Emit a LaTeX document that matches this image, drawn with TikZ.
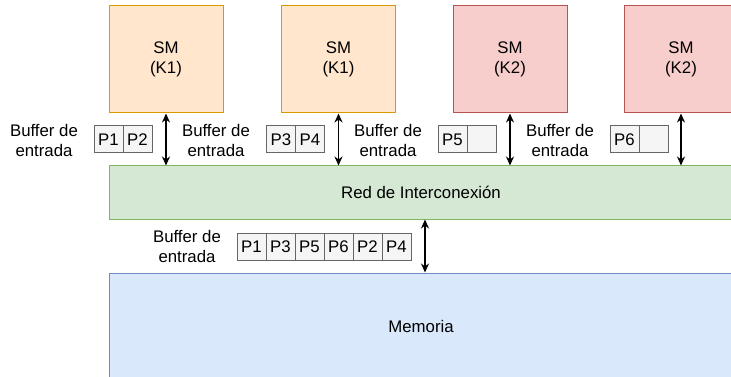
\documentclass[tikz,border=0pt]{standalone}
\usepackage{fontspec}
\setmainfont{Liberation Sans}
\usetikzlibrary{arrows.meta,positioning}
\definecolor{kafill}{HTML}{FFE6CC}
\definecolor{kaline}{HTML}{D79B00}
\definecolor{kbfill}{HTML}{F8CECC}
\definecolor{kbline}{HTML}{B85450}
\definecolor{netfill}{HTML}{D5E8D4}
\definecolor{netline}{HTML}{82B366}
\definecolor{memfill}{HTML}{DAE8FC}
\definecolor{memline}{HTML}{6C8EBF}
\definecolor{cellfill}{HTML}{F5F5F5}
\definecolor{cellline}{HTML}{666666}

\begin{document}
\begin{tikzpicture}[x=1pt,y=-1pt,>={Stealth[length=9pt,width=8pt]},
  every node/.style={font=\fontsize{16.8}{20}\selectfont},
  sm/.style={draw,line width=1pt,minimum width=114pt,minimum height=107pt,align=center},
  block/.style={draw,line width=1pt,minimum width=624pt},
  cell/.style={draw=cellline,fill=cellfill,line width=1pt,minimum width=29pt,
    minimum height=27pt,inner sep=0pt,outer sep=0pt},
  link/.style={<->,line width=1.5pt},
  lbl/.style={align=center}]
  \useasboundingbox (0,0) rectangle (731,377);
  % procesadores
  \node[sm,draw=kaline,fill=kafill] (sm1) at (166,59.5) {SM\\(K1)};
  \node[sm,draw=kaline,fill=kafill] (sm2) at (338.5,59.5) {SM\\(K1)};
  \node[sm,draw=kbline,fill=kbfill] (sm3) at (510,59.5) {SM\\(K2)};
  \node[sm,draw=kbline,fill=kbfill] (sm4) at (681,59.5) {SM\\(K2)};
  % red y memoria
  \node[block,draw=netline,fill=netfill,minimum height=53pt] (net) at (421,192.5) {Red de Interconexión};
  \node[block,draw=memline,fill=memfill,minimum height=107pt] (mem) at (421,326.5) {Memoria};
  % buffers de entrada
  \foreach \i/\x/\a/\b in {1/108.5/P1/P2, 2/281/P3/P4, 3/452.5/P5/{}, 4/624.5/P6/{}} {
    \node[cell] (buf\i-a) at (\x,139.5) {\a};
    \node[cell,right=0pt of buf\i-a] (buf\i-b) {\b};
    \draw[link] (sm\i.south) -- (sm\i.south |- net.north);
  }
  \node[lbl] (in1) at (44,140) {Buffer de\\entrada};
  \node[lbl] (in2) at (216,140) {Buffer de\\entrada};
  \node[lbl] (in3) at (388,140) {Buffer de\\entrada};
  \node[lbl] (in4) at (560,140) {Buffer de\\entrada};
  \foreach \p [count=\i] in {P1,P3,P5,P6,P2,P4}
    \node[cell] (mbuf\i) at (237+29*\i-14.5,246.5) {\p};
  \node[lbl] (inm) at (187,246.5) {Buffer de\\entrada};
  \coordinate (port) at (425,0);
  \draw[link] (port |- net.south) -- (port |- mem.north);
\end{tikzpicture}
\end{document}
